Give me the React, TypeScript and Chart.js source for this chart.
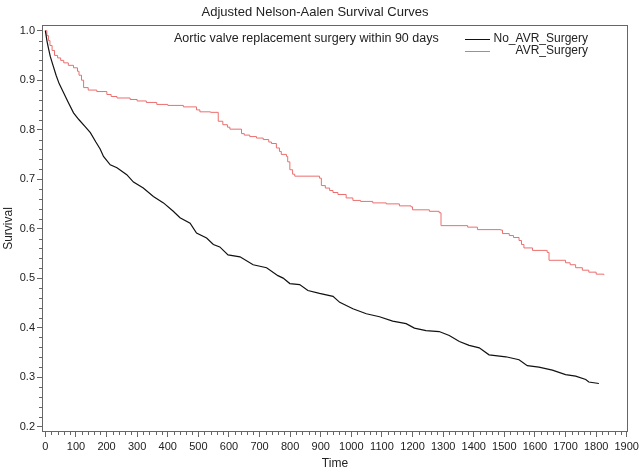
import React, { useEffect, useRef } from "react";
import { Chart, registerables } from "chart.js";

Chart.register(...registerables);

const chartTitle = "Adjusted Nelson-Aalen Survival Curves";
const legendTitle = "Aortic valve replacement surgery within 90 days";
const seriesLabels = ["No_AVR_Surgery", "AVR_Surgery"];
const xAxisTitle = "Time";
const yAxisTitle = "Survival";

const noAvrTimes = [0, 5, 10, 16, 25, 35, 45, 60, 75, 92, 110, 130, 147, 165, 179, 190, 212, 234, 266, 288, 320, 353, 386, 418, 440, 473, 494, 527, 549, 570, 597, 636, 679, 723, 760, 777, 799, 831, 858, 896, 940, 962, 1005, 1049, 1092, 1135, 1179, 1206, 1244, 1287, 1320, 1353, 1385, 1418, 1450, 1505, 1548, 1575, 1613, 1657, 1700, 1733, 1766, 1776, 1809];
const noAvrSurvival = [1.0, 0.98, 0.965, 0.948, 0.93, 0.91, 0.893, 0.874, 0.855, 0.834, 0.82, 0.806, 0.794, 0.775, 0.761, 0.746, 0.729, 0.723, 0.709, 0.694, 0.682, 0.665, 0.652, 0.635, 0.622, 0.611, 0.591, 0.581, 0.568, 0.563, 0.547, 0.543, 0.527, 0.521, 0.505, 0.5, 0.489, 0.487, 0.475, 0.469, 0.463, 0.451, 0.438, 0.428, 0.422, 0.413, 0.408, 0.399, 0.394, 0.392, 0.384, 0.372, 0.364, 0.359, 0.345, 0.341, 0.335, 0.323, 0.32, 0.314, 0.305, 0.302, 0.295, 0.29, 0.287];

const avrTimes = [0, 5, 10, 15, 22, 30, 40, 50, 60, 75, 92, 105, 110, 118, 125, 140, 168, 201, 215, 234, 277, 300, 330, 364, 400, 451, 494, 505, 540, 565, 580, 595, 603, 641, 650, 668, 690, 712, 730, 739, 755, 765, 771, 788, 792, 799, 808, 815, 896, 902, 915, 929, 940, 956, 983, 1005, 1030, 1070, 1114, 1157, 1195, 1200, 1255, 1287, 1293, 1380, 1412, 1488, 1494, 1516, 1530, 1548, 1556, 1564, 1592, 1640, 1646, 1700, 1715, 1733, 1755, 1776, 1800, 1825];
const avrSurvival = [1.0, 0.99, 0.98, 0.97, 0.96, 0.95, 0.945, 0.94, 0.935, 0.93, 0.925, 0.918, 0.91, 0.9, 0.885, 0.88, 0.877, 0.871, 0.867, 0.864, 0.861, 0.858, 0.855, 0.851, 0.849, 0.846, 0.84, 0.836, 0.835, 0.817, 0.81, 0.805, 0.801, 0.792, 0.789, 0.786, 0.783, 0.78, 0.775, 0.772, 0.763, 0.756, 0.75, 0.746, 0.735, 0.719, 0.71, 0.706, 0.702, 0.687, 0.682, 0.677, 0.673, 0.669, 0.662, 0.657, 0.655, 0.652, 0.65, 0.646, 0.644, 0.638, 0.635, 0.632, 0.606, 0.603, 0.598, 0.597, 0.59, 0.586, 0.582, 0.576, 0.568, 0.561, 0.556, 0.552, 0.536, 0.531, 0.527, 0.521, 0.516, 0.512, 0.508, 0.506];

const FONT = "'Liberation Sans', Arial, sans-serif";
const TEXT = "#222";
const FRAME = "#666";
const BLACK = "#111";
const RED = "rgb(236,110,110)";

const overlay = {
  id: "overlay",
  afterDraw(chart: any) {
    const { ctx, chartArea: a, scales } = chart;
    const x = scales.x;
    const y = scales.y;
    ctx.save();
    // frame
    ctx.strokeStyle = FRAME;
    ctx.lineWidth = 1;
    ctx.strokeRect(Math.round(a.left) + 0.5, Math.round(a.top) + 0.5, Math.round(a.right - a.left) - 1, Math.round(a.bottom - a.top) - 1);
    // minor ticks
    ctx.beginPath();
    for (let v = 0; v <= 1900; v += 20) {
      if (v % 100 === 0) continue;
      const px = Math.round(x.getPixelForValue(v)) + 0.5;
      ctx.moveTo(px, a.bottom);
      ctx.lineTo(px, a.bottom + 3);
    }
    for (let k = 10; k <= 50; k++) {
      if (k % 5 === 0) continue;
      const v = k * 0.02;
      const py = Math.round(y.getPixelForValue(v)) + 0.5;
      ctx.moveTo(a.left, py);
      ctx.lineTo(a.left - 3, py);
    }
    ctx.stroke();
    // legend
    ctx.fillStyle = TEXT;
    ctx.textBaseline = "middle";
    ctx.font = `12.5px ${FONT}`;
    ctx.textAlign = "left";
    ctx.fillText(legendTitle, 174, 39);
    ctx.font = `12px ${FONT}`;
    ctx.textAlign = "right";
    ctx.fillText(seriesLabels[0], 588, 39);
    ctx.fillText(seriesLabels[1], 588, 51);
    ctx.lineWidth = 1;
    ctx.strokeStyle = BLACK;
    ctx.beginPath();
    ctx.moveTo(465, 39.5);
    ctx.lineTo(490, 39.5);
    ctx.stroke();
    ctx.strokeStyle = RED;
    ctx.beginPath();
    ctx.moveTo(465, 51.5);
    ctx.lineTo(490, 51.5);
    ctx.stroke();
    ctx.restore();
  },
};

export default function App() {
  const ref = useRef<HTMLCanvasElement | null>(null);
  useEffect(() => {
    if (!ref.current) return;
    const chart = new Chart(ref.current, {
      type: "line",
      data: {
        datasets: [
          {
            label: seriesLabels[0],
            data: noAvrTimes.map((t, i) => ({ x: t, y: noAvrSurvival[i] })),
            borderColor: BLACK,
            borderWidth: 1.2,
            pointRadius: 0,
            tension: 0,
            fill: false,
          },
          {
            label: seriesLabels[1],
            data: avrTimes.map((t, i) => ({ x: t, y: avrSurvival[i] })),
            borderColor: RED,
            borderWidth: 1,
            pointRadius: 0,
            stepped: true,
            fill: false,
          },
        ],
      },
      options: {
        animation: false,
        responsive: false,
        layout: { padding: { left: 0, right: 12, top: 0, bottom: 0 } },
        plugins: {
          legend: { display: false },
          tooltip: { enabled: false },
          title: {
            display: true,
            text: chartTitle,
            color: TEXT,
            font: { family: FONT, size: 13, weight: "normal" },
            padding: { top: 4.5, bottom: 4.9 },
          },
        },
        scales: {
          x: {
            type: "linear",
            min: -11,
            max: 1904,
            afterFit: (s: any) => {
              s.height = 39;
            },
            border: { display: false },
            grid: { drawOnChartArea: false, drawTicks: true, tickLength: 5, tickColor: FRAME },
            ticks: {
              stepSize: 100,
              includeBounds: false,
              autoSkip: false,
              maxRotation: 0,
              padding: 3,
              color: TEXT,
              font: { family: FONT, size: 11 },
              callback: (v: any) => String(Math.round(Number(v))),
            },
            title: {
              display: true,
              text: xAxisTitle,
              color: TEXT,
              font: { family: FONT, size: 12 },
              padding: { top: 0, bottom: 0 },
            },
          },
          y: {
            type: "linear",
            min: 0.189,
            max: 1.0115,
            afterFit: (s: any) => {
              s.width = 42;
            },
            border: { display: false },
            grid: { drawOnChartArea: false, drawTicks: true, tickLength: 5, tickColor: FRAME },
            ticks: {
              stepSize: 0.1,
              includeBounds: false,
              padding: 2,
              color: TEXT,
              font: { family: FONT, size: 11 },
              callback: (v: any) => Number(v).toFixed(1),
            },
            title: {
              display: true,
              text: yAxisTitle,
              color: TEXT,
              font: { family: FONT, size: 12 },
              padding: { top: 1, bottom: 0 },
            },
          },
        },
      },
      plugins: [overlay],
    });
    return () => chart.destroy();
  }, []);
  return (
    <div style={{ position: "absolute", left: 0, top: 0, width: 642, height: 471, background: "#fff" }}>
      <canvas ref={ref} width={642} height={471} style={{ display: "block" }} />
    </div>
  );
}
